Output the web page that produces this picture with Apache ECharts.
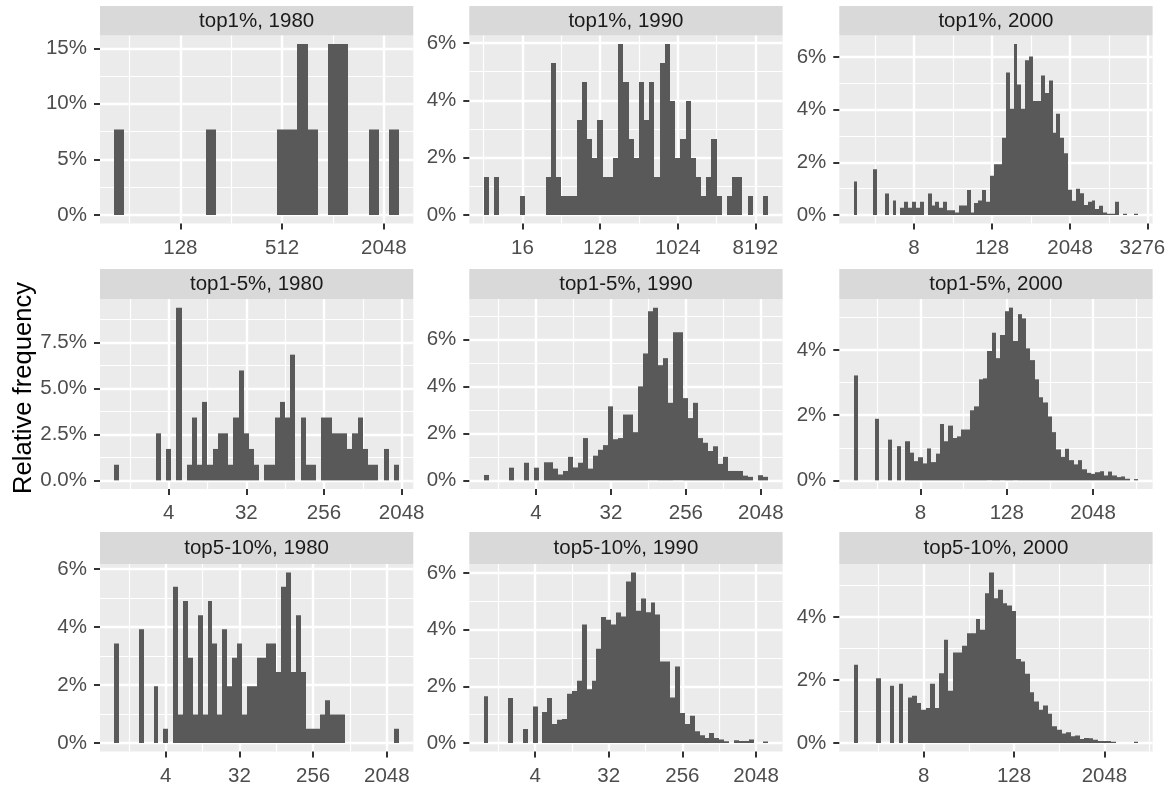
<!DOCTYPE html>
<html>
<head>
<meta charset="utf-8">
<title>Relative frequency by group and year</title>
<script src="https://cdn.jsdelivr.net/npm/echarts@6/dist/echarts.min.js"></script>
<style>
  html, body { margin: 0; padding: 0; background: #ffffff; }
  #chart { width: 1165px; height: 789px; }
</style>
</head>
<body>
<div id="chart"></div>
<script>
// Histogram bins are 0.2 wide on a log2 scale; each array lists the relative
// frequency (%) of consecutive bins, starting at the bin centred on *_start.
const binWidth = 0.2;

const top1_1980_start = 5.8;
const top1_1980 = [7.69,0,0,0,0,0,0,0,0,7.69,0,0,0,0,0,0,7.69,7.69,15.38,7.69,0,15.38,15.38,0,0,7.69,0,7.69];

const top1_1990_start = 2.6;
const top1_1990 = [1.32,0,1.32,0,0,0,0,0.66,0,0,0,0,
  1.32,5.30,1.32,0.66,0.66,0.66,3.31,4.64,2.65,1.99,3.31,1.32,1.32,1.99,5.96,4.64,2.65,1.99,4.64,3.31,
  4.64,1.32,5.30,5.96,3.97,1.99,2.65,3.97,1.99,1.32,0.66,1.32,2.65,0.66,
  0,0.66,1.32,1.32,0,0.66,0,0,0.66];

const top1_2000_start = 0;
const top1_2000 = [1.27,0,0,0,0,1.74,0,0,0.82,0,0.55,0,
  0.27,0.5,0.27,0.5,0.27,0.5,0,0.82,0.36,0.5,0.27,0.5,0.18,0.18,0.09,0.36,0.36,0.95,0.09,0.45,0.55,0.95,0.5,
  1.49,1.93,1.93,2.94,5.42,4.04,6.5,4.96,4.04,5.88,6.03,4.33,4.33,5.3,4.64,5.11,3.13,3.85,2.94,2.35,
  0.96,0.54,1.0,0.83,0.38,0.5,0.55,0.23,0.35,0.09,0.05,0.05,0.5,0,0.05,0,0,0.05];

const top1to5_1980_start = 0;
const top1to5_1980 = [0.85,0,0,0,0,0,0,0,2.56,0,1.71,0,9.40,0,
  0.85,3.42,0.85,4.27,0.85,1.71,2.56,2.56,0.85,3.42,5.98,2.56,1.71,0.85,0,
  0.85,0.85,3.42,4.27,3.42,6.84,0,3.42,0.85,0.85,0,
  3.42,3.42,2.56,2.56,2.56,1.71,2.56,3.42,1.71,0.85,0.85,0,1.71,0,0.85];

const top1to5_1990_start = 0;
const top1to5_1990 = [0.23,0,0,0,0,0.54,0,0,0.75,0,0.54,0,
  0.77,0.77,0.5,0.25,0.4,1.0,0.55,0.75,1.8,0.5,1.05,1.3,1.5,3.15,1.75,1.8,2.8,2.8,2.05,
  4.0,5.4,7.2,7.35,4.9,5.2,3.3,6.3,6.3,3.5,2.65,3.3,1.8,1.6,1.25,1.45,0.7,1.0,0.4,0.4,0.4,0.2,0.15,0,0.22,0.15];

const top1to5_2000_start = 0;
const top1to5_2000 = [3.22,0,0,0,0,1.89,0,0,1.25,0,1.05,0,
  1.2,0.85,0.59,0.71,0.52,0.98,0.56,0.82,1.73,1.2,1.68,1.3,1.35,1.56,1.56,2.15,2.27,3.1,3.13,
  3.97,4.53,3.75,4.46,5.19,5.3,4.28,5.1,4.97,4.05,3.69,3.1,2.55,2.39,1.96,1.48,0.95,0.72,0.97,
  0.62,0.49,0.62,0.34,0.23,0.2,0.25,0.28,0.15,0.27,0.15,0.1,0.12,0.05,0,0.04];

const top5to10_1980_start = 0;
const top5to10_1980 = [3.43,0,0,0,0,3.92,0,0,1.96,0,0.49,0,
  5.39,0.98,4.90,2.94,0.98,4.41,0.98,4.90,3.43,0.98,3.92,1.96,2.94,3.43,0.98,1.96,1.96,2.94,2.94,
  3.43,3.43,2.45,5.39,5.88,2.45,4.41,2.45,0.49,0.49,0.49,0.98,1.47,0.98,0.98,0.98,
  0,0,0,0,0,0,0,0,0,0,0.49];

const top5to10_1990_start = 0;
const top5to10_1990 = [1.65,0,0,0,0,1.59,0,0,0.49,0,1.29,0,
  1.09,1.59,0.67,0.82,0.85,1.74,1.84,2.2,4.18,1.9,2.2,3.33,4.45,4.35,4.18,4.61,4.47,5.7,6.02,
  4.67,5.1,4.62,4.96,4.54,2.88,2.88,1.61,2.7,1.06,0.67,0.96,0.41,0.27,0.18,0.35,0.18,0.12,0.06,
  0,0.1,0.07,0.07,0.12,0,0,0.05];

const top5to10_2000_start = 0;
const top5to10_2000 = [2.49,0,0,0,0,2.06,0,0,1.82,0,1.88,0,
  1.45,1.5,1.27,1.06,1.11,1.88,1.11,2.22,3.28,1.66,2.88,2.88,3.09,3.49,3.49,3.94,3.6,4.76,5.42,
  4.6,4.87,4.44,4.37,4.2,2.67,2.59,2.2,1.61,1.32,1.06,1.19,0.93,0.53,0.42,0.3,0.34,0.21,0.24,
  0.13,0.16,0.15,0.1,0.06,0.06,0.06,0.04,0,0,0,0,0.04];

const facetTitles = ['top1%, 1980', 'top1%, 1990', 'top1%, 2000',
  'top1-5%, 1980', 'top1-5%, 1990', 'top1-5%, 2000',
  'top5-10%, 1980', 'top5-10%, 1990', 'top5-10%, 2000'];

const xTickLabels = [
  [128, 512, 2048], [16, 128, 1024, 8192], [8, 128, 2048, 32768],
  [4, 32, 256, 2048], [4, 32, 256, 2048], [8, 128, 2048],
  [4, 32, 256, 2048], [4, 32, 256, 2048], [8, 128, 2048]
];

const yTicks = [
  [0, 5, 10, 15], [0, 2, 4, 6], [0, 2, 4, 6],
  [0, 2.5, 5, 7.5], [0, 2, 4, 6], [0, 2, 4],
  [0, 2, 4, 6], [0, 2, 4, 6], [0, 2, 4]
];
const yTickLabels = [
  ['0%', '5%', '10%', '15%'], ['0%', '2%', '4%', '6%'], ['0%', '2%', '4%', '6%'],
  ['0.0%', '2.5%', '5.0%', '7.5%'], ['0%', '2%', '4%', '6%'], ['0%', '2%', '4%'],
  ['0%', '2%', '4%', '6%'], ['0%', '2%', '4%', '6%'], ['0%', '2%', '4%']
];

const yAxisTitle = 'Relative frequency';

const panels = [
  { start: top1_1980_start, values: top1_1980 },
  { start: top1_1990_start, values: top1_1990 },
  { start: top1_2000_start, values: top1_2000 },
  { start: top1to5_1980_start, values: top1to5_1980 },
  { start: top1to5_1990_start, values: top1to5_1990 },
  { start: top1to5_2000_start, values: top1to5_2000 },
  { start: top5to10_1980_start, values: top5to10_1980 },
  { start: top5to10_1990_start, values: top5to10_1990 },
  { start: top5to10_2000_start, values: top5to10_2000 }
];

// ---- layout and styling ----
const FONT = '"Liberation Sans", Arial, sans-serif';
const colLeft = [100, 469.3, 839.3];
const panelW = 313.3;
const stripTop = [6, 269, 532];
const plotTop = [35.5, 299, 564];
const plotBottom = [223.5, 489, 751.5];

// minor breaks sit halfway between major breaks (and half a step outside them)
function halfSteps(ticks) {
  const step = ticks[1] - ticks[0];
  const out = [ticks[0] - step / 2];
  for (let k = 0; k < ticks.length; k++) out.push(ticks[k] + step / 2);
  return out;
}
function lookup(values, labels, v) {
  for (let k = 0; k < values.length; k++) {
    if (Math.abs(values[k] - v) < 1e-6) return String(labels[k]);
  }
  return '';
}

const grids = [], xAxes = [], yAxes = [], series = [], graphics = [];

panels.forEach((p, i) => {
  const r = Math.floor(i / 3), c = i % 3;
  const left = colLeft[c];

  grids.push({
    left: left, top: plotTop[r], width: panelW, height: plotBottom[r] - plotTop[r],
    show: true, backgroundColor: '#EBEBEB', borderWidth: 0,
    containLabel: false, outerBoundsMode: 'none'
  });

  // x range: bin extent expanded by 5% on each side
  const n = p.values.length;
  const lo = p.start - binWidth / 2;
  const hi = p.start + (n - 1) * binWidth + binWidth / 2;
  const xMin = lo - (hi - lo) * 0.05;
  const xMax = hi + (hi - lo) * 0.05;
  const xMajor = xTickLabels[i].map(v => Math.log2(v));
  const xMinor = halfSteps(xMajor).filter(v => v > xMin && v < xMax);

  // y range: 0..max expanded by 5%
  const yTop = Math.max.apply(null, p.values);
  const yMin = -0.05 * yTop;
  const yMax = 1.05 * yTop;
  const yMajor = yTicks[i];
  const yMinor = halfSteps(yMajor).filter(v => v > yMin && v < yMax);

  xAxes.push({
    gridIndex: i, type: 'value', min: xMin, max: xMax, position: 'bottom',
    axisLine: { show: false, onZero: false },
    axisTick: { show: true, length: 6, customValues: xMajor, lineStyle: { color: '#333333', width: 2 } },
    axisLabel: {
      show: true, customValues: xMajor, margin: 14, color: '#4D4D4D',
      fontSize: 20.5, fontFamily: FONT,
      formatter: v => lookup(xMajor, xTickLabels[i], v)
    },
    splitLine: { show: true, lineStyle: { color: '#FFFFFF', width: 2.4 } },
    minorTick: { show: false }, minorSplitLine: { show: false }
  });
  xAxes.push({
    gridIndex: i, type: 'value', min: xMin, max: xMax, position: 'top',
    axisLine: { show: false, onZero: false },
    axisTick: { show: false, customValues: xMinor },
    axisLabel: { show: false, customValues: xMinor },
    splitLine: { show: true, lineStyle: { color: '#FFFFFF', width: 1.2 } }
  });

  yAxes.push({
    gridIndex: i, type: 'value', min: yMin, max: yMax, position: 'left',
    axisLine: { show: false, onZero: false },
    axisTick: { show: true, length: 6, customValues: yMajor, lineStyle: { color: '#333333', width: 2 } },
    axisLabel: {
      show: true, customValues: yMajor, margin: 13, color: '#4D4D4D',
      fontSize: 20.5, fontFamily: FONT,
      formatter: v => lookup(yMajor, yTickLabels[i], v)
    },
    splitLine: { show: true, lineStyle: { color: '#FFFFFF', width: 2.4 } },
    minorTick: { show: false }, minorSplitLine: { show: false }
  });
  yAxes.push({
    gridIndex: i, type: 'value', min: yMin, max: yMax, position: 'right',
    axisLine: { show: false, onZero: false },
    axisTick: { show: false, customValues: yMinor },
    axisLabel: { show: false, customValues: yMinor },
    splitLine: { show: true, lineStyle: { color: '#FFFFFF', width: 1.2 } }
  });

  series.push({
    type: 'custom',
    xAxisIndex: 2 * i, yAxisIndex: 2 * i,
    clip: true, silent: true, z: 5,
    data: p.values.map((v, k) => [p.start + k * binWidth, v]).filter(d => d[1] > 0),
    renderItem: (params, api) => {
      const cx = api.value(0), h = api.value(1);
      const a = api.coord([cx - binWidth / 2, h]);
      const b = api.coord([cx + binWidth / 2, 0]);
      // snap bin edges to whole pixels so neighbouring bars join without seams
      const x0 = Math.round(a[0]), x1 = Math.round(b[0]);
      return {
        type: 'rect',
        shape: { x: x0, y: a[1], width: x1 - x0, height: b[1] - a[1] },
        style: { fill: '#595959' }
      };
    }
  });

  // facet strip
  graphics.push({
    type: 'rect', silent: true,
    shape: { x: left, y: stripTop[r], width: panelW, height: plotTop[r] - stripTop[r] },
    style: { fill: '#D9D9D9' }
  });
  graphics.push({
    type: 'text', silent: true,
    x: left + panelW / 2, y: (stripTop[r] + plotTop[r]) / 2 + 0.5,
    style: {
      text: facetTitles[i], fill: '#1A1A1A',
      font: '20.5px ' + FONT, align: 'center', verticalAlign: 'middle'
    }
  });
});

graphics.push({
  type: 'text', silent: true,
  x: 24, y: 388, rotation: Math.PI / 2,
  style: {
    text: yAxisTitle, fill: '#000000',
    font: '25.6px ' + FONT, align: 'center', verticalAlign: 'middle'
  }
});

const chart = echarts.init(document.getElementById('chart'), null, { renderer: 'canvas' });
chart.setOption({
  animation: false,
  backgroundColor: '#FFFFFF',
  grid: grids,
  xAxis: xAxes,
  yAxis: yAxes,
  series: series,
  graphic: graphics
});
</script>
</body>
</html>
